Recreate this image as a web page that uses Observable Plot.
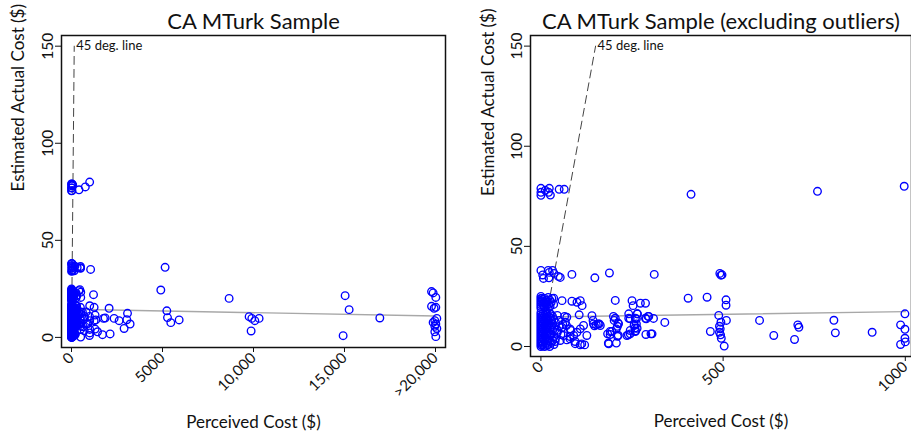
<!DOCTYPE html>
<html>
<head>
<meta charset="utf-8">
<script src="https://cdn.jsdelivr.net/npm/d3@7"></script>
<script src="https://cdn.jsdelivr.net/npm/@observablehq/plot@0.6"></script>
<style>
  html, body { margin: 0; padding: 0; background: #fff; }
  #wrap { display: flex; width: 911px; height: 432px; overflow: hidden; }
</style>
</head>
<body>
<div id="wrap"></div>
<script>
// ---- Data ----
const titles = ["CA MTurk Sample", "CA MTurk Sample (excluding outliers)"];
const xLabel = "Perceived Cost ($)";
const yLabel = "Estimated Actual Cost ($)";
const degLabel = "45 deg. line";

const yTicks = [0, 50, 100, 150];
const xTicksAll = [0, 5000, 10000, 15000, 20000];
const xTickLabelsAll = ["0", "5000", "10,000", "15,000", ">20,000"];
const xTicksTrim = [0, 500, 1000];
const xTickLabelsTrim = ["0", "500", "1000"];

// 45 degree reference line
const degX = [0, 150];
const degY = [0, 150];

// fitted lines
const fitAllX = [0, 20000];
const fitAllY = [14.5, 11.0];
const fitTrimX = [0, 1000];
const fitTrimY = [14.7, 17.4];

// points with perceived cost up to 1000 (shown in both panels): [perceived, actual]
const mainPairs = [
  [0,79],[0,77],[0,75.5],[12,78],[21,77],[23,79],[26,75.6],[50,78.5],[64,78.5],[412,76],[759,77.5],[997,80],
  [0,38],[5,35.7],[7,34],[20,38],[23,37],[32,38],[36,36.5],[48,35],[22,34.3],[53,34.5],[85,36],[148,34.3],[188,36.7],[311,36],[491,36.5],[494,35.6],[497,35.8],
  [35,24.1],[58,22.9],[85,22.6],[99,22.1],[108,22.9],[113,20.4],[204,23],[250,22.9],[253,20.4],[273,21.6],[287,21.6],[404,24.1],[456,24.6],[508,23.3],[508,20.6],
  [0,25],[0,24],[0,23],[0,22],[0,21],[0,20],[0,19],[2,22.5],[3,24],[5,21],[5,23.5],[8,20],[8,22],[10,24],[10,19.5],[12,21.5],[15,23],[15,20.5],[18,22],[20,24.5],[20,19],[22,21],[25,23],[25,20],[28,22],[30,24],[35,21],
  [0,0],[0,1],[0,2],[0,3],[0,4],[0,5],[0,6],[0,7],[0,8],[0,9],[0,10],[0,11],[0,12],[0,13],[0,14],[0,15],[0,16],[0,17],
  [3,0.5],[3,2.5],[3,5],[3,7.5],[3,10],[3,12.5],[3,15],
  [6,1],[6,4],[6,6.5],[6,9],[6,11.5],[6,14],[6,16.5],
  [10,0],[10,3],[10,5.5],[10,8],[10,10.5],[10,13],[10,15.5],
  [13,1.5],[13,4.5],[13,7],[13,9.5],[13,12],[13,14.5],[13,17],
  [16,0.5],[16,3],[16,6],[16,8.5],[16,11],[16,14],[16,16],
  [20,1],[20,4],[20,7],[20,10],[20,12.5],[20,15],
  [24,0],[24,2.5],[24,5.5],[24,9],[24,11.5],[24,14.5],[24,16.5],
  [28,2],[28,6],[28,10],[28,13],[28,16],
  [32,3],[32,8],[32,11],[32,15],
  [36,1],[36,5],[36,9.5],[36,13.5],
  [40,4],[40,12],[45,7],[45,15.5],[50,10],[50,13],[55,6],[60,11],[65,15],
  [105,15.8],[140,15.4],[143,13],[144,11.3],[147,10.3],[160,11.3],[340,12],[309,14],[294,15],[287,14.1],[264,16.3],[259,14.1],[241,16.3],[241,14.1],
  [256,10.8],[258,9.2],[260,7.8],[212,11.7],[204,14.1],[199,15],[190,7.5],[190,6],[185,1.7],[207,1.7],[212,5.6],[240,5.8],[245,6.3],[288,6],[302,6.3],
  [126,5.5],[108,0.8],[120,0.8],[94,1.4],[80,5],[82,8],[71,3.3],[39,2.5],
  [71,14.6],[67,12.1],[157,11.3],[163,10.5],[152,10.8],[117,10.5],[108,8.8],[99,7.1],[90,5.5],[80,3.8],[112,1.3],[94,2.5],[62,5.5],[53,3],[44,8],[58,9.5],[70,10.5],[80,8.8],
  [183,6.3],[195,7.5],[207,8.8],[210,10.1],[213,11.3],[201,13],[186,1.3],[210,5.1],[236,5.5],[245,8],[256,10.5],[262,11.3],[264,9.1],[259,7.5],[262,13.8],[245,13.8],[265,16.3],[289,13.8],[296,15],
  [305,6.3],[488,15.5],[509,13],[494,12.1],[490,10.1],[492,8.8],[490,7.1],[493,5.8],[495,4.1],[465,7.5],[503,0.2],[600,13],[639,5.5],[696,3.5],[705,10.8],[708,9.6],
  [804,13.1],[808,6.8],[909,7.1],[999,16.3],[987,10.8],[999,8.6],[999,4.1],[1000,2.3],[987,1]
];

// outliers (perceived cost above 1000; only in the full-sample panel)
const outlierPairs = [
  [1050,35],[1209,22],[1242,15.5],[1297,11.5],[1242,8.6],[1335,9],[1297,4.3],[1429,2.9],[1703,1.4],[2121,1.8],[2066,15],[1758,9.8],[1846,10],
  [2341,9.8],[2616,8.6],[2890,4.6],[3077,12.4],[3039,9.1],[3220,6.9],[4907,24.4],[5143,36.1],[5237,13.7],[5274,10.2],[5456,7.6],[5914,9],
  [8660,20.1],[9759,10.7],[9907,9.8],[10072,8.6],[10308,9.8],[9869,3.3],[15035,21.5],[15255,14.3],[14925,0.9],[16941,10],
  [19782,23.6],[19870,22.9],[20018,20.6],[19782,16],[20018,15.5],[19925,15],[19870,7.7],[19963,8.6],[20073,9.8],[20018,6.9],[19963,5.7],[20073,4.6],[19963,2.9],[20018,0.4]
];

// ---- Drawing ----
const BLUE = "#0000ff";
const font = "Lato, 'Open Sans', sans-serif";

function panel({width, marginLeft, marginRight, marginBottom, xDomain, yDomain, xTicks, xTickLabels, points, fitX, fitY, title, xLabelDy, yLabelDx}) {
  const fit = fitX.map((x, i) => ({x, y: fitY[i]}));
  const deg = degX.map((x, i) => ({x, y: degY[i]}));
  return Plot.plot({
    width, height: 432,
    marginTop: 35, marginLeft, marginRight, marginBottom,
    style: {fontFamily: font, fontSize: "14px", background: "#fff", color: "#111", overflow: "visible"},
    x: {domain: xDomain},
    y: {domain: yDomain},
    marks: [
      Plot.line(deg, {x: "x", y: "y", stroke: "#444", strokeWidth: 1, strokeDasharray: "8,5"}),
      Plot.text([deg[1]], {x: "x", y: "y", text: () => degLabel, textAnchor: "start", dx: 2, fontSize: 13, fill: "#111"}),
      Plot.line(fit, {x: "x", y: "y", stroke: "#a8a8a8", strokeWidth: 1.4}),
      Plot.dot(points, {x: d => d[0], y: d => d[1], r: 3.8, stroke: BLUE, strokeWidth: 1.35, fill: "none"}),
      Plot.frame({stroke: "#111", strokeWidth: 1.5}),
      Plot.axisY({ticks: yTicks, tickSize: 6, tickRotate: -90, tickPadding: 3, fontSize: 15.5, label: null}),
      Plot.axisX({ticks: xTicks, tickSize: 5, tickRotate: -45, tickPadding: 3, fontSize: 15,
        tickFormat: v => xTickLabels[xTicks.indexOf(v)], label: null}),
      Plot.text([xLabel], {frameAnchor: "bottom", dy: xLabelDy, lineAnchor: "middle", fontSize: 17, fill: "#111"}),
      Plot.text([yLabel], {frameAnchor: "left", dx: yLabelDx, rotate: -90, lineAnchor: "middle", fontSize: 17, fill: "#111"}),
      Plot.text([title], {frameAnchor: "top", dy: -14, lineAnchor: "middle", fontSize: 22, fill: "#111"})
    ]
  });
}

const wrap = document.getElementById("wrap");
wrap.append(panel({
  width: 455, marginLeft: 61, marginRight: 10, marginBottom: 85,
  xDomain: [-550, 20550], yDomain: [-5.2, 155.5],
  xTicks: xTicksAll, xTickLabels: xTickLabelsAll,
  points: mainPairs.concat(outlierPairs),
  fitX: fitAllX, fitY: fitAllY, title: titles[0],
  xLabelDy: 75.5, yLabelDx: -43
}));
wrap.append(panel({
  width: 456, marginLeft: 75, marginRight: 0, marginBottom: 76,
  xDomain: [-28.6, 1017], yDomain: [-5, 155.3],
  xTicks: xTicksTrim, xTickLabels: xTickLabelsTrim,
  points: mainPairs,
  fitX: fitTrimX, fitY: fitTrimY, title: titles[1],
  xLabelDy: 65.5, yLabelDx: -42
}));
</script>
</body>
</html>
